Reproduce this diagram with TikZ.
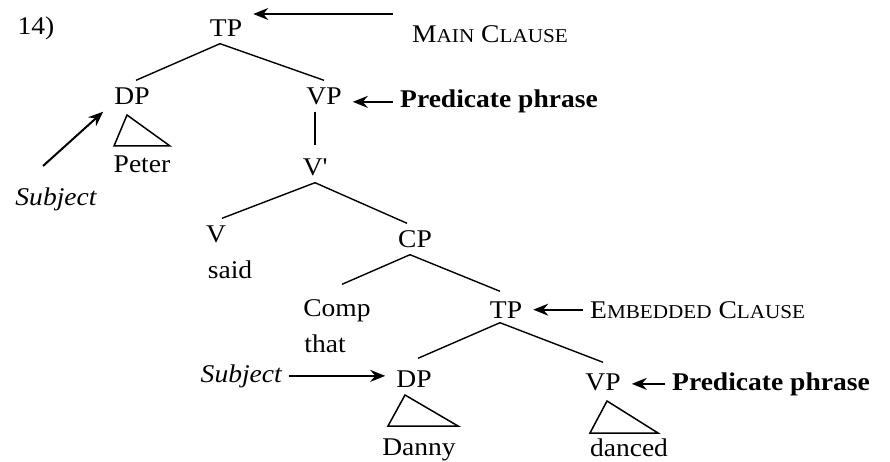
\documentclass[tikz,border=0pt]{standalone}
\usepackage{fontspec}
\setmainfont{Liberation Serif}[FakeStretch=1.08]
\usetikzlibrary{arrows.meta}
\newcommand\treefont{\fontsize{25.5pt}{29pt}\selectfont}
\newcommand\fsc[1]{{\fontsize{19.6pt}{21pt}\selectfont #1}}
\begin{document}
\begin{tikzpicture}[x=1pt,y=-1pt,
  every node/.style={font=\treefont},
  cat/.style={inner xsep=11pt,inner ysep=7pt,text height=17pt,text depth=0pt},
  leaf/.style={inner sep=0pt,anchor=base},
  lbl/.style={inner xsep=7pt,inner ysep=0pt},
  branch/.style={line width=1.4pt},
  roof/.style={line width=1.5pt,line join=miter},
  arr/.style={line width=2pt,-{Stealth[length=15pt,width=12pt,inset=5pt]}}]
\useasboundingbox (0,0) rectangle (890,462);

% example number
\node[leaf] (num) at (36,35) {14)};

% main clause
\node[cat] (TP1) at (226,28) {TP};
\node[cat] (DP1) at (132,96) {DP};
\node[cat] (VP1) at (324,96) {VP};
\node[leaf] (Peter) at (142,173) {Peter};
\node[cat] (Vbar) at (315,167) {V\textquotesingle};
\node[cat] (V) at (216,234) {V};
\node[leaf] (said) at (230,278) {said};
\node[cat] (CP) at (415,239) {CP};
\node[cat] (Comp) at (337,308) {Comp};
\node[leaf] (that) at (325,352) {that};

% embedded clause
\node[cat] (TP2) at (506,310) {TP};
\node[cat] (DP2) at (414,379) {DP};
\node[cat] (VP2) at (603,382) {VP};
\node[leaf] (Danny) at (419,455) {Danny};
\node[leaf] (danced) at (629,456) {danced};

% labels
\node[lbl,anchor=base west] (MC) at (405,43) {M\fsc{AIN} C\fsc{LAUSE}};
\node[lbl,anchor=base west] (P1) at (393,108) {\bfseries Predicate phrase};
\node[lbl,anchor=base] (S1) at (56,205) {\itshape Subject};
\node[lbl,anchor=base west] (EC) at (583,318) {E\fsc{MBEDDED} C\fsc{LAUSE}};
\node[lbl,anchor=base east] (S2) at (289,382) {\itshape Subject};
\node[lbl,anchor=base west] (P2) at (665,390) {\bfseries Predicate phrase};

% branches
\draw[branch] ([xshift=-6pt]TP1.south) -- ([xshift=4pt]DP1.north);
\draw[branch] ([xshift=-6pt]TP1.south) -- (VP1.north);
\draw[branch] (Vbar.north |- VP1.south) -- ([yshift=6pt]Vbar.north);
\draw[branch] (Vbar.south) -- ([xshift=6pt]V.north);
\draw[branch] (Vbar.south) -- ([xshift=-8pt]CP.north);
\draw[branch] ([xshift=-5pt]CP.south) -- ([xshift=5pt,yshift=8pt]Comp.north);
\draw[branch] ([xshift=-5pt]CP.south) -- ([xshift=-6pt,yshift=3pt]TP2.north);
\draw[branch] ([xshift=-6pt,yshift=3pt]TP2.south) -- ([xshift=4pt,yshift=5pt]DP2.north);
\draw[branch] ([xshift=-6pt,yshift=3pt]TP2.south) -- ([yshift=4pt]VP2.north);

% roofs over phrases
\draw[roof] (127,115) -- (114,146) -- (170,146) -- cycle;
\draw[roof] (405,395) -- (388,426) -- (458,426) -- cycle;
\draw[roof] (607,401) -- (590,433) -- (658,433) -- cycle;

% pointers
\coordinate (mctail) at (393,14);
\draw[arr] (mctail) -- (mctail -| TP1.east);
\draw[arr] (P1.west) -- (P1.west -| VP1.east);
\coordinate (s1tail) at (43,166);
\draw[arr] (s1tail) -- (DP1.south west);
\draw[arr] (EC.west) -- (EC.west -| TP2.east);
\draw[arr] (S2.east) -- (S2.east -| DP2.west);
\draw[arr] (P2.west) -- (P2.west -| VP2.east);
\end{tikzpicture}
\end{document}
